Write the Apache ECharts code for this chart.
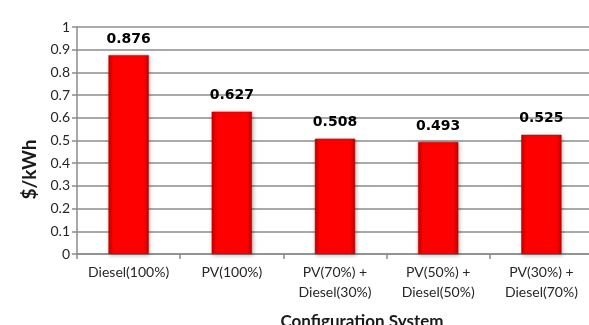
<!DOCTYPE html>
<html>
<head>
<meta charset="utf-8">
<script src="https://cdn.jsdelivr.net/npm/echarts@6/dist/echarts.min.js"></script>
<style>
  html, body { margin: 0; padding: 0; background: #ffffff; }
  #chart { width: 589px; height: 325px; }
</style>
</head>
<body>
<div id="chart"></div>
<script>
// Levelized cost of energy per configuration
const categories = [
  'Diesel(100%)',
  'PV(100%)',
  'PV(70%) +\nDiesel(30%)',
  'PV(50%) +\nDiesel(50%)',
  'PV(30%) +\nDiesel(70%)'
];
const costValues = [0.876, 0.627, 0.508, 0.493, 0.525];
const yAxisTitle = '$/kWh';
const xAxisTitle = 'Configuration System';

const labelFont = 'Lato, "Open Sans", sans-serif';

const barFill = {
  type: 'linear', x: 0, y: 0, x2: 1, y2: 0,
  colorStops: [
    { offset: 0, color: '#c40000' },
    { offset: 0.12, color: '#ff0000' },
    { offset: 0.88, color: '#ff0000' },
    { offset: 1, color: '#bf0000' }
  ]
};

const chart = echarts.init(document.getElementById('chart'), null, { renderer: 'canvas' });
chart.setOption({
  animation: false,
  backgroundColor: '#ffffff',
  grid: {
    left: 77, right: -4, top: 27, bottom: 71,
    containLabel: false,
    outerBoundsMode: 'none'
  },
  xAxis: {
    type: 'category',
    data: categories,
    name: xAxisTitle,
    nameLocation: 'middle',
    nameGap: 59,
    nameTextStyle: {
      fontFamily: labelFont, fontWeight: 'bold', fontSize: 17, color: '#1a1a1a',
      padding: [0, 0, 0, 54]
    },
    axisLine: { lineStyle: { color: '#8c8c8c', width: 1.5 } },
    axisTick: { show: true, alignWithLabel: false, length: 5, lineStyle: { color: '#8c8c8c', width: 1.5 } },
    axisLabel: {
      interval: 0, fontFamily: labelFont, fontSize: 14, color: '#262626',
      lineHeight: 20, margin: 8
    }
  },
  yAxis: {
    type: 'value',
    min: 0, max: 1, interval: 0.1,
    name: yAxisTitle,
    nameLocation: 'middle',
    nameRotate: 90,
    nameGap: 38,
    nameTextStyle: {
      fontFamily: labelFont, fontWeight: 'bold', fontSize: 19, color: '#1a1a1a',
      padding: [0, 58, 0, 0]
    },
    axisLine: { show: true, lineStyle: { color: '#8c8c8c', width: 1.5 } },
    axisTick: { show: true, length: 5, lineStyle: { color: '#8c8c8c', width: 1.5 } },
    axisLabel: {
      fontFamily: labelFont, fontSize: 14, color: '#262626', margin: 7,
      formatter: v => String(Math.round(v * 10) / 10)
    },
    splitLine: { show: true, lineStyle: { color: '#8c8c8c', width: 1.5 } }
  },
  series: [{
    type: 'bar',
    data: costValues,
    barWidth: '39%',
    itemStyle: {
      color: barFill,
      borderColor: '#b30000',
      borderWidth: 0.5,
      shadowColor: 'rgba(0,0,0,0.3)',
      shadowBlur: 4,
      shadowOffsetX: 1,
      shadowOffsetY: 1
    },
    label: {
      show: true,
      position: 'top',
      distance: 9,
      fontFamily: '"DejaVu Sans", sans-serif',
      fontWeight: 'bold',
      fontSize: 14,
      color: '#000000',
      formatter: p => p.value.toFixed(3)
    }
  }]
});
</script>
</body>
</html>
